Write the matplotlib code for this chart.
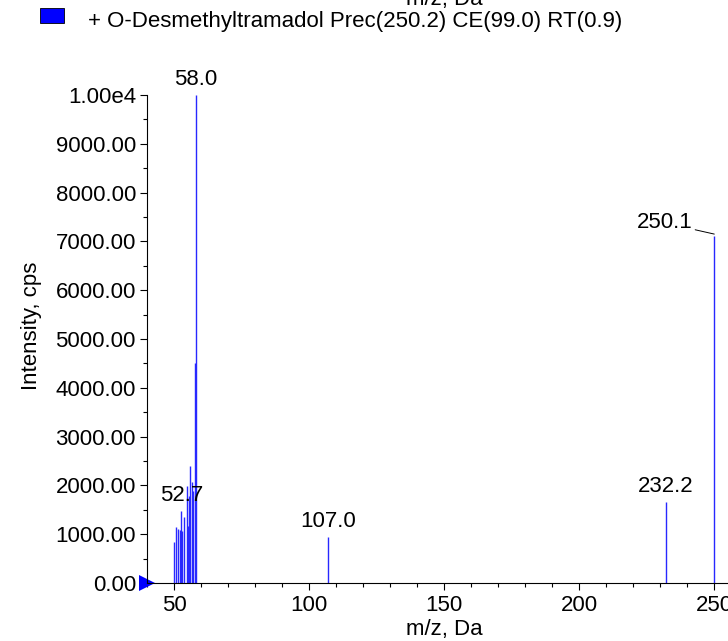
import matplotlib
matplotlib.use("Agg")
import matplotlib.pyplot as plt

plt.rcParams['font.family'] = ['Liberation Sans', 'DejaVu Sans']

# peak list (m/z, intensity in cps)
mz = [50.0, 50.6, 51.5, 52.1, 52.7, 53.0, 53.6, 54.7, 55.2, 55.5, 55.7,
      56.1, 56.6, 57.1, 57.6, 58.0, 107.0, 232.2, 250.1]
intensity = [850, 1140, 1100, 1080, 1480, 1070, 1360, 1980, 1160, 920, 1780,
             2400, 2060, 1880, 4500, 10000, 940, 1670, 7110]

# peaks that carry a label
labelled = [52.7, 58.0, 107.0, 232.2]

title = "+ O-Desmethyltramadol Prec(250.2) CE(99.0) RT(0.9)"
yticks = [0, 1000, 2000, 3000, 4000, 5000, 6000, 7000, 8000, 9000, 10000]
yticklabels = ["0.00", "1000.00", "2000.00", "3000.00", "4000.00", "5000.00",
               "6000.00", "7000.00", "8000.00", "9000.00", "1.00e4"]
xticks = [50, 100, 150, 200, 250]

fs = 16

fig = plt.figure(figsize=(7.28, 6.41), dpi=100)
ax = fig.add_axes([147 / 728, 58 / 641, 594 / 728, 488 / 641])

ax.vlines(mz, 0, intensity, color='#2828ff', linewidth=1.0)

for m, i in zip(mz, intensity):
    if m in labelled:
        ax.text(m, i + 100, f"{m:.1f}", ha='center', va='bottom', fontsize=fs, clip_on=False)

# label of the 250.1 peak sits left with a small leader line
i250 = intensity[mz.index(250.1)]
ax.annotate("250.1", xy=(250.1, i250 + 40), xytext=(242.0, i250 + 270),
            ha='right', va='center', fontsize=fs,
            arrowprops=dict(arrowstyle='-', color='black', lw=0.7,
                            shrinkA=0, shrinkB=0))

ax.set_xlim(40, 260)
ax.set_ylim(0, 10000)
ax.set_xticks(xticks)
ax.set_xticks(range(40, 261, 10), minor=True)
ax.set_yticks(yticks)
ax.set_yticklabels(yticklabels)
ax.set_yticks(range(500, 10000, 1000), minor=True)
ax.tick_params(axis='both', which='major', labelsize=fs, length=5, width=0.8, direction='out')
ax.tick_params(axis='y', which='major', pad=3)
ax.tick_params(axis='both', which='minor', length=3, width=0.8, direction='out')

ax.spines['top'].set_visible(False)
ax.spines['right'].set_visible(False)

ax.set_xlabel("m/z, Da", fontsize=fs, labelpad=2)
ax.set_ylabel("Intensity, cps", fontsize=fs)
ax.yaxis.set_label_coords(-0.177, 0.528)

# blue marker at the baseline
ax.plot([40], [0], marker='>', markersize=11, color='#0000ff', clip_on=False,
        markeredgewidth=0)

# legend entry at the top
fig.patches.append(plt.Rectangle((40 / 728, 1 - 23 / 641), 24 / 728, 15 / 641,
                                 transform=fig.transFigure, facecolor='#0000ff',
                                 edgecolor='black', linewidth=0.6))
fig.text(88 / 728, 1 - 22 / 641, title, fontsize=fs, va='center', ha='left')
# cut-off axis label from the panel above
fig.text(444 / 728, 1 - 0 / 641, "m/z, Da", fontsize=fs, ha='center', va='center')

fig.savefig("out.png", dpi=100)
